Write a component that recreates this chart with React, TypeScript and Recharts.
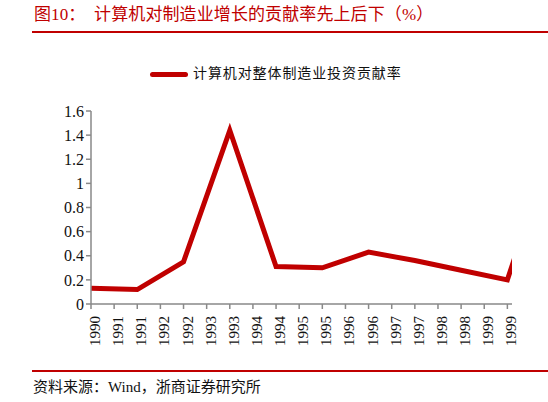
import React from 'react';
import { LineChart, Line, XAxis, YAxis } from 'recharts';

const yearLabels = ['1990','1991','1991','1992','1992','1993','1993','1994','1994','1995','1995','1996','1996','1997','1997','1998','1998','1999','1999'];
const pointIndex = [0, 2, 4, 6, 8, 10, 12, 14, 16, 18, 19];
const contribution = [0.13, 0.12, 0.35, 1.44, 0.31, 0.30, 0.43, 0.36, 0.28, 0.20, 0.78];
const yTicks = [0, 0.2, 0.4, 0.6, 0.8, 1, 1.2, 1.4, 1.6];
const titleText = '图10：  计算机对制造业增长的贡献率先上后下（%）';
const seriesName = '计算机对整体制造业投资贡献率';
const sourceText = '资料来源：Wind，浙商证券研究所';

const data = pointIndex.map((x, i) => ({ x, v: contribution[i] }));

const RED = '#C00000';
const AXIS = '#898989';
const SERIF = '"Liberation Serif", "Noto Sans CJK SC", serif';

const XTick = (props: any) => {
  const { x, y, payload } = props;
  const label = yearLabels[payload.value] ?? '';
  return (
    <text
      x={x + 4}
      y={y + 5}
      transform={`rotate(-90, ${x + 4}, ${y + 5})`}
      textAnchor="end"
      dominantBaseline="central"
      fontFamily={SERIF}
      fontSize={15}
      fill="#111"
    >
      {label}
    </text>
  );
};

export default function App() {
  return (
    <div style={{ position: 'absolute', left: 0, top: 0, width: 548, height: 402, background: '#fff', overflow: 'hidden' }}>
      <div style={{ position: 'absolute', left: 34, top: 4, fontFamily: SERIF, fontSize: 17, letterSpacing: 0.1, color: RED, whiteSpace: 'pre', lineHeight: '22px' }}>
        {titleText}
      </div>
      <div style={{ position: 'absolute', left: 32, top: 31, width: 516, height: 1.5, background: RED }} />
      <div style={{ position: 'absolute', left: 150, top: 62, display: 'flex', alignItems: 'center' }}>
        <div style={{ width: 38, height: 5, borderRadius: 3, background: RED }} />
        <span style={{ marginLeft: 5, fontFamily: SERIF, fontSize: 14, letterSpacing: 0.9, color: '#111', lineHeight: '24px', whiteSpace: 'pre' }}>{seriesName}</span>
      </div>
      <div style={{ position: 'absolute', left: 0, top: 0 }}>
        <LineChart width={548} height={402} data={data} margin={{ top: 111, right: 36, left: 41, bottom: 48 }}>
          <XAxis
            dataKey="x"
            type="number"
            domain={[0, 18.2]}
            allowDataOverflow
            ticks={yearLabels.map((_, i) => i)}
            interval={0}
            height={50}
            stroke={AXIS}
            strokeWidth={1.5}
            tickLine={{ stroke: AXIS, strokeWidth: 1.5 }}
            tickSize={5}
            tick={<XTick />}
          />
          <YAxis
            type="number"
            domain={[0, 1.6]}
            ticks={yTicks}
            interval={0}
            width={50}
            stroke={AXIS}
            strokeWidth={1.5}
            tickLine={{ stroke: AXIS, strokeWidth: 1.5 }}
            tickSize={5}
            tick={{ fontFamily: SERIF, fontSize: 16, fill: '#111' }}
            tickFormatter={(v: number) => String(Math.round(v * 10) / 10)}
          />
          <Line
            dataKey="v"
            type="linear"
            stroke={RED}
            strokeWidth={5}
            dot={false}
            activeDot={false}
            isAnimationActive={false}
          />
        </LineChart>
      </div>
      <div style={{ position: 'absolute', left: 32, top: 370, width: 516, height: 1.5, background: RED }} />
      <div style={{ position: 'absolute', left: 33, top: 377, fontFamily: SERIF, fontSize: 15, color: '#111', lineHeight: '20px', whiteSpace: 'pre' }}>
        {sourceText}
      </div>
    </div>
  );
}
